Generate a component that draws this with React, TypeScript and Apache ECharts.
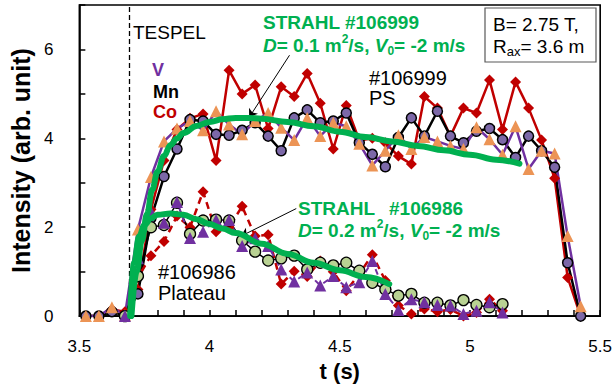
import React, { useEffect, useRef } from "react";
import * as echarts from "echarts";

// ---- Shot #106999 (PS) ----
const TIME_PS = [
  3.525, 3.575, 3.625, 3.675, 3.725, 3.775, 3.825, 3.875, 3.925, 3.975,
  4.025, 4.075, 4.125, 4.175, 4.225, 4.275, 4.325, 4.375, 4.425, 4.475,
  4.525, 4.575, 4.625, 4.675, 4.725, 4.775, 4.825, 4.875, 4.925, 4.975,
  5.025, 5.075, 5.125, 5.175, 5.225, 5.275, 5.325, 5.375, 5.425,
];
const V_PS = [
  0, 0, 0.2, 0.02, 1.95, 3.13, 3.93, 4.22, 4.39, 4.18,
  4.61, 4.31, 4.09, 4.39, 4.57, 4.24, 3.96, 4.46, 4.05, 4.35,
  4.27, 3.88, 3.39, 3.72, 4.07, 3.76, 4.03, 3.93, 3.83, 3.76,
  4.25, 3.98, 3.63, 4.27, 3.31, 3.72, 3.66, 1.8, 0.22,
];
const MN_PS = [
  0, 0, 0.1, 0, 0.5, 2.2, 3.14, 3.76, 4.42, 4.39,
  4.09, 4.07, 4.18, 4.35, 4.05, 3.72, 4.46, 4.64, 4.35, 4.39,
  4.57, 3.9, 3.64, 3.36, 4.02, 4.46, 4.05, 4.61, 4.05, 3.9,
  4.16, 4.22, 3.97, 3.57, 4.05, 3.72, 3.35, 1.2, 0,
];
const CO_PS = [
  0, 0, 0.15, 0.1, 0.6, 2.4, 3.5, 4.2, 4.45, 4.55,
  3.5, 5.53, 5.0, 5.2, 4.22, 5.16, 4.94, 5.46, 4.79, 3.76,
  4.74, 3.95, 4.0, 3.9, 3.6, 3.42, 4.94, 4.68, 4.05, 4.68,
  4.57, 5.31, 4.2, 5.27, 4.68, 3.96, 3.1, 0.87, 0,
];

// ---- Shot #106986 (Plateau) ----
const TIME_PL = [
  3.675, 3.725, 3.775, 3.825, 3.875, 3.925, 3.975, 4.025, 4.075, 4.125,
  4.175, 4.225, 4.275, 4.325, 4.375, 4.425, 4.475, 4.525, 4.575, 4.625,
  4.675, 4.725, 4.775, 4.825, 4.875, 4.925, 4.975, 5.025, 5.075, 5.125,
];
const V_PL = [
  0, 1.3, 2.35, 2.1, 2.57, 1.76, 1.9, 2.16, 2.16, 1.58,
  1.75, 1.58, 1.05, 0.78, 0.98, 0.69, 0.9, 0.65, 0.76, 1.24,
  0.5, 0.14, 0.38, 0.31, 0.25, 0.24, 0.05, 0.12, 0.31, 0.08,
];
const MN_PL = [
  0, 0.9, 2.0, 2.05, 2.55, 1.85, 2.15, 2.17, 2.15, 1.7,
  1.45, 1.25, 1.3, 1.36, 1.05, 1.2, 1.14, 1.2, 1.02, 0.75,
  0.6, 0.46, 0.5, 0.3, 0.3, 0.24, 0.36, 0.25, 0.2, 0.27,
];
const CO_PL = [
  0, 0.87, 1.36, 1.68, 2.25, 2.0, 2.8, 1.9, 2.0, 2.47,
  1.8, 1.83, 0.72, 1.01, 0.89, 1.24, 1.0, 0.57, 0.95, 1.38,
  0.8, 0.24, 0.05, 0.16, 0.1, 0.15, 0.0, 0.08, 0.38, 0.12,
];

// ---- STRAHL simulations ----
const STRAHL_PS_T = [
  3.7, 3.72, 3.74, 3.76, 3.78, 3.8, 3.825, 3.85, 3.875, 3.9, 3.95, 4.0,
  4.05, 4.1, 4.15, 4.2, 4.3, 4.4, 4.5, 4.6, 4.7, 4.8, 4.9, 5.0, 5.1, 5.19,
];
const STRAHL_PS_V = [
  0, 1.0, 1.7, 2.3, 2.85, 3.25, 3.6, 3.85, 4.0, 4.12, 4.28, 4.37,
  4.43, 4.46, 4.46, 4.44, 4.37, 4.27, 4.15, 4.03, 3.93, 3.83, 3.73, 3.63, 3.52, 3.43,
];
const STRAHL_PL_T = [
  3.695, 3.71, 3.73, 3.75, 3.775, 3.8, 3.85, 3.9, 3.95, 4.0, 4.05, 4.1,
  4.2, 4.3, 4.4, 4.5, 4.6, 4.69,
];
const STRAHL_PL_V = [
  0, 1.2, 1.8, 2.05, 2.2, 2.28, 2.31, 2.28, 2.18, 2.07, 1.97, 1.87,
  1.63, 1.4, 1.2, 1.03, 0.88, 0.72,
];

const TESPEL_TIME = 3.69;

const FONT = "'Liberation Sans', Arial, Helvetica, sans-serif";
const GREEN = "#00B050";
const PURPLE = "#7030A0";
const RED = "#C00000";
const ORANGE = "#EC9455";

const zip = (ts: number[], vs: number[]) => ts.map((t, i) => [t, vs[i]]);

const text = (x: number, y: number, content: string, extra: any = {}) => ({
  type: "text",
  x,
  y,
  z: 100,
  silent: true,
  style: {
    text: content,
    fill: "#000",
    fontFamily: FONT,
    fontSize: 19,
    align: "left",
    verticalAlign: "middle",
    ...extra,
  },
});

const strahlRich = {
  i: { fontFamily: FONT, fontSize: 19, fontWeight: "bold", fontStyle: "italic", fill: GREEN, lineHeight: 24 },
  sup: { fontFamily: FONT, fontSize: 12, fontWeight: "bold", fill: GREEN, verticalAlign: "top", lineHeight: 24 },
  sub: { fontFamily: FONT, fontSize: 12, fontWeight: "bold", fill: GREEN, verticalAlign: "bottom", lineHeight: 24 },
  g: { width: 14 },
};

export default function App() {
  const ref = useRef<HTMLDivElement>(null);

  useEffect(() => {
    if (!ref.current) return;
    const chart = echarts.init(ref.current, undefined, { renderer: "svg" });

    const dataLine = (
      name: string,
      ts: number[],
      vs: number[],
      lineColor: string,
      lineWidth: number,
      lineType: any,
      symbol: string,
      symbolSize: number,
      item: any
    ) => ({
      name,
      type: "line",
      data: zip(ts, vs),
      symbol,
      symbolSize,
      showSymbol: true,
      showAllSymbol: true,
      lineStyle: { color: lineColor, width: lineWidth, type: lineType },
      itemStyle: item,
      emphasis: { disabled: true },
    });

    chart.setOption({
      animation: false,
      backgroundColor: "#fff",
      textStyle: { fontFamily: FONT },
      grid: {
        left: 73,
        right: 14,
        top: 5,
        bottom: 68,
        show: true,
        borderColor: "#000",
        borderWidth: 1.6,
      },
      xAxis: {
        type: "value",
        min: 3.5,
        max: 5.5,
        interval: 0.5,
        name: "t (s)",
        nameLocation: "middle",
        nameGap: 42,
        nameTextStyle: { fontFamily: FONT, fontSize: 22, fontWeight: "bold", color: "#000" },
        axisLine: { show: true, lineStyle: { color: "#000", width: 1.6 } },
        axisTick: { show: true, inside: true, length: 6, lineStyle: { color: "#000", width: 1.5 } },
        minorTick: { show: true, splitNumber: 5, length: 6, lineStyle: { color: "#000", width: 1.5 } },
        axisLabel: {
          fontFamily: FONT,
          fontSize: 17,
          color: "#000",
          margin: 22,
          formatter: (v: number) => String(Number(v.toFixed(1))),
        },
        splitLine: { show: false },
        minorSplitLine: { show: false },
      },
      yAxis: {
        type: "value",
        min: 0,
        max: 7,
        interval: 1,
        name: "Intensity (arb. unit)",
        nameLocation: "middle",
        nameGap: 39,
        nameTextStyle: { fontFamily: FONT, fontSize: 25, fontWeight: "bold", color: "#000" },
        axisLine: { show: true, lineStyle: { color: "#000", width: 1.6 } },
        axisTick: { show: true, inside: true, length: 6, lineStyle: { color: "#000", width: 1.5 } },
        axisLabel: {
          fontFamily: FONT,
          fontSize: 17,
          color: "#000",
          margin: 26,
          formatter: (v: number) => (v % 2 === 0 ? String(v) : ""),
        },
        splitLine: { show: false },
      },
      series: [
        {
          ...dataLine("Co #106999", TIME_PS, CO_PS, RED, 2.5, "solid", "diamond", 11, { color: RED }),
          markLine: {
            silent: true,
            symbol: ["none", "none"],
            label: { show: false },
            lineStyle: { color: "#000", width: 1.3, type: [5, 3] },
            data: [{ xAxis: TESPEL_TIME }],
          },
        },
        dataLine("Mn #106999", TIME_PS, MN_PS, "#000", 2.5, "solid", "circle", 10, {
          color: "#7C68A8",
          borderColor: "#000",
          borderWidth: 1.5,
        }),
        dataLine("V #106999", TIME_PS, V_PS, PURPLE, 2.5, "solid", "triangle", 12, { color: ORANGE }),
        dataLine("Co #106986", TIME_PL, CO_PL, RED, 2.5, [7, 5], "diamond", 11, { color: RED }),
        dataLine("Mn #106986", TIME_PL, MN_PL, "#000", 1.5, "solid", "circle", 11, {
          color: "#B9D293",
          borderColor: "#000",
          borderWidth: 1.3,
        }),
        dataLine("V #106986", TIME_PL, V_PL, PURPLE, 2, [6, 5], "triangle", 12, { color: PURPLE }),
        {
          name: "STRAHL #106999",
          type: "line",
          data: zip(STRAHL_PS_T, STRAHL_PS_V),
          showSymbol: false,
          smooth: 0.4,
          smoothMonotone: "x",
          lineStyle: { color: GREEN, width: 6, cap: "round" },
          emphasis: { disabled: true },
          z: 5,
          markLine: {
            silent: true,
            symbol: ["none", "arrow"],
            symbolSize: 8,
            label: { show: false },
            lineStyle: { color: "#000", width: 1, type: "solid" },
            data: [
              [{ coord: [4.307, 5.87] }, { coord: [4.152, 4.47] }],
              [{ coord: [4.333, 2.42] }, { coord: [4.121, 1.8] }],
            ],
          },
        },
        {
          name: "STRAHL #106986",
          type: "line",
          data: zip(STRAHL_PL_T, STRAHL_PL_V),
          showSymbol: false,
          smooth: 0.4,
          smoothMonotone: "x",
          lineStyle: { color: GREEN, width: 6, cap: "round" },
          emphasis: { disabled: true },
          z: 5,
        },
      ],
      graphic: [
        text(133, 32, "TESPEL"),
        text(152, 70, "V", { fontSize: 18, fontWeight: "bold", fill: PURPLE }),
        text(153, 92, "Mn", { fontSize: 18, fontWeight: "bold" }),
        text(153, 112, "Co", { fontSize: 18, fontWeight: "bold", fill: RED }),
        text(263, 22, "STRAHL #106999", { fontWeight: "bold", fill: GREEN }),
        text(263, 45, "{i|D}= 0.1 m{sup|2}/s, {i|V}{sub|0}= -2 m/s", {
          fontWeight: "bold",
          fill: GREEN,
          lineHeight: 24,
          rich: strahlRich,
        }),
        text(369, 88, "#106999\nPS", { fontSize: 20, lineHeight: 20 }),
        {
          type: "rect",
          z: 99,
          silent: true,
          shape: { x: 485, y: 8, width: 111, height: 54 },
          style: { fill: "#fff", stroke: "#595959", lineWidth: 1.2 },
        },
        text(493, 24, "B= 2.75 T,"),
        text(493, 46, "R{s|ax}= 3.6 m", {
          lineHeight: 24,
          rich: { s: { fontFamily: FONT, fontSize: 13, fill: "#000", verticalAlign: "bottom", lineHeight: 24 } },
        }),
        text(298, 208, "STRAHL{g|}#106986", { fontWeight: "bold", fill: GREEN, rich: strahlRich }),
        text(298, 230, "{i|D}= 0.2 m{sup|2}/s, {i|V}{sub|0}= -2 m/s", {
          fontWeight: "bold",
          fill: GREEN,
          lineHeight: 24,
          rich: strahlRich,
        }),
        text(158, 282, "#106986\nPlateau", { fontSize: 20, lineHeight: 21 }),
      ],
    });

    return () => chart.dispose();
  }, []);

  return (
    <div
      ref={ref}
      style={{ position: "fixed", left: 0, top: 0, width: 615, height: 387, background: "#fff" }}
    />
  );
}
